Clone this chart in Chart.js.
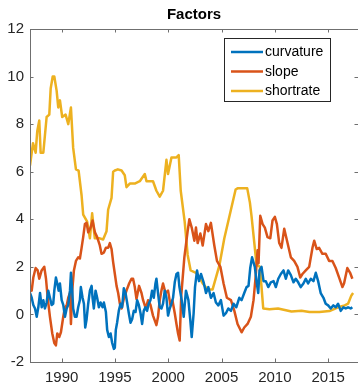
<!DOCTYPE html>
<html>
<head>
<meta charset="utf-8">
<script src="https://cdn.jsdelivr.net/npm/chart.js@4"></script>
<style>
  html, body { margin: 0; padding: 0; background: #fff; }
  #grafico { display: block; }
</style>
</head>
<body>
<canvas id="grafico" width="358" height="386"></canvas>
<script>
// anos (fração decimal) e valores
const curvatureYears = [1987.03,1987.19,1987.34,1987.50,1987.66,1987.81,1987.97,1988.13,1988.28,1988.43,1988.59,1988.74,1988.90,1989.06,1989.21,1989.31,1989.46,1989.59,1989.72,1989.84,1990.00,1990.15,1990.31,1990.47,1990.62,1990.78,1990.87,1990.99,1991.08,1991.24,1991.40,1991.55,1991.71,1991.80,1991.96,1992.09,1992.21,1992.34,1992.49,1992.65,1992.81,1992.90,1993.02,1993.18,1993.33,1993.49,1993.65,1993.84,1993.96,1994.15,1994.27,1994.43,1994.59,1994.74,1994.90,1994.99,1995.08,1995.20,1995.36,1995.52,1995.67,1995.83,1995.99,1996.14,1996.30,1996.46,1996.61,1996.77,1996.93,1997.08,1997.24,1997.40,1997.55,1997.70,1997.86,1998.01,1998.17,1998.33,1998.48,1998.64,1998.80,1998.89,1999.04,1999.20,1999.36,1999.51,1999.67,1999.83,1999.98,2000.14,2000.30,2000.45,2000.61,2000.77,2000.92,2001.05,2001.26,2001.45,2001.66,2001.89,2002.07,2002.20,2002.38,2002.51,2002.70,2002.88,2003.07,2003.32,2003.54,2003.76,2004.00,2004.25,2004.47,2004.70,2004.94,2005.19,2005.41,2005.63,2005.88,2006.13,2006.38,2006.66,2006.88,2007.13,2007.35,2007.53,2007.69,2007.86,2008.12,2008.31,2008.44,2008.56,2008.75,2008.94,2009.15,2009.38,2009.62,2009.88,2010.09,2010.32,2010.56,2010.81,2011.03,2011.25,2011.50,2011.75,2011.96,2012.19,2012.43,2012.68,2012.90,2013.12,2013.37,2013.62,2013.84,2014.06,2014.30,2014.56,2014.77,2015.00,2015.24,2015.49,2015.71,2015.93,2016.18,2016.43,2016.65,2016.87,2017.11,2017.27];
const curvatureValues = [0.9,0.7,0.4,0.25,-0.1,0.3,0.9,0.3,0.6,0.25,0.5,1.0,0.7,0.4,0.45,1.0,1.55,1.3,1.0,1.3,0.6,0.4,-0.1,0.25,0.4,1.0,1.75,1.0,0.25,-0.1,-0.1,0.3,0.6,1.15,0.7,0.45,-0.55,-0.2,0.45,1.0,1.2,0.7,0.25,1.0,0.7,0.3,0.5,0.3,0.5,0.1,-0.65,-0.95,-0.8,-1.2,-1.45,-1.4,-0.65,-0.35,0.15,0.45,0.3,1.1,0.9,0.5,0.05,-0.35,-0.2,0.15,0.1,0.6,0.4,0.05,-0.4,0.15,0.3,0.15,0.45,0.6,1.0,0.7,1.3,1.5,0.9,0.3,0.25,0.45,1.0,0.7,-0.05,0.25,0.45,0.7,1.35,1.7,1.75,1.15,0.6,-0.1,1.0,0.6,-0.25,-0.95,0.05,1.15,1.85,1.4,1.7,1.35,0.9,1.15,0.7,0.9,0.5,0.38,0.6,-0.05,0.05,0.25,0.15,0.45,0.3,0.7,0.6,0.9,1.15,1.2,1.95,2.4,2.0,1.3,0.9,1.85,2.0,1.4,1.4,1.15,1.35,1.4,1.15,1.5,1.7,1.85,1.5,1.85,1.65,1.35,1.5,1.35,1.15,1.3,1.5,1.3,1.5,1.4,1.75,1.4,0.9,0.7,0.45,0.38,0.25,0.38,0.3,0.45,0.15,0.3,0.25,0.3,0.25,0.3];

const slopeYears = [1987.03,1987.19,1987.34,1987.56,1987.75,1987.90,1988.12,1988.37,1988.53,1988.69,1988.90,1989.12,1989.31,1989.46,1989.59,1989.77,1989.93,1990.15,1990.31,1990.47,1990.62,1990.78,1990.87,1990.99,1991.15,1991.34,1991.55,1991.71,1991.87,1992.02,1992.18,1992.34,1992.49,1992.71,1992.90,1993.12,1993.33,1993.58,1993.74,1993.96,1994.15,1994.36,1994.52,1994.68,1994.83,1994.99,1995.15,1995.30,1995.46,1995.62,1995.83,1996.08,1996.33,1996.55,1996.70,1996.86,1997.02,1997.26,1997.49,1997.64,1997.89,1998.11,1998.33,1998.57,1998.73,1998.89,1999.04,1999.20,1999.36,1999.51,1999.74,1999.98,2000.20,2000.39,2000.61,2000.77,2000.92,2001.07,2001.22,2001.51,2001.82,2001.98,2002.20,2002.45,2002.60,2002.76,2003.01,2003.23,2003.54,2003.76,2004.00,2004.32,2004.57,2004.89,2005.19,2005.50,2005.88,2006.20,2006.50,2006.88,2007.13,2007.44,2007.75,2008.00,2008.22,2008.38,2008.47,2008.63,2008.85,2009.06,2009.31,2009.57,2009.78,2010.00,2010.19,2010.41,2010.62,2010.88,2011.19,2011.50,2011.81,2012.12,2012.38,2012.59,2012.90,2013.22,2013.53,2013.69,2013.93,2014.15,2014.46,2014.77,2015.09,2015.40,2015.71,2016.03,2016.34,2016.49,2016.80,2017.06,2017.27];
const slopeValues = [1.2,1.0,1.55,1.95,1.85,1.5,1.85,2.0,1.5,0.7,-0.1,-0.8,-1.2,-1.3,-0.8,-0.95,-0.75,-0.1,0.3,0.38,0.7,0.9,-0.4,1.0,1.85,2.25,2.4,2.35,2.8,3.25,3.8,3.85,3.45,3.65,3.95,3.45,3.25,2.9,2.55,2.6,2.8,2.8,3.0,2.75,2.2,1.7,1.2,0.9,0.45,0.25,0.65,1.0,1.3,1.5,1.5,1.15,0.65,1.2,0.9,0.6,0.25,0.6,0.4,-0.05,-0.25,-0.45,-0.1,0.6,1.0,1.3,0.9,1.0,0.4,0.6,0.05,-0.4,-0.8,-1.1,0.8,2.4,3.5,4.0,3.65,3.1,3.65,3.0,3.4,2.9,3.8,3.5,3.85,2.9,2.25,2.0,1.3,0.7,0.6,0.15,-0.4,-0.75,-0.55,-0.4,-0.1,0.6,1.7,2.7,2.15,4.15,3.8,3.65,3.25,3.2,3.95,4.1,3.8,3.0,2.8,3.6,3.0,2.4,2.25,2.0,1.55,1.7,1.85,2.0,2.8,3.1,2.75,2.8,2.55,2.55,2.25,2.25,1.95,1.55,1.15,1.3,1.95,1.75,1.5];

const shortrateYears = [1987.03,1987.31,1987.56,1987.71,1987.90,1988.03,1988.28,1988.59,1988.84,1988.97,1989.16,1989.31,1989.53,1989.68,1989.84,1990.05,1990.37,1990.62,1990.87,1991.08,1991.34,1991.59,1991.87,1992.02,1992.39,1992.65,1992.86,1993.11,1993.58,1993.89,1994.21,1994.36,1994.68,1994.83,1994.99,1995.27,1995.62,1995.92,1996.08,1996.39,1996.86,1997.33,1997.80,1997.96,1998.57,1998.89,1999.20,1999.51,1999.83,1999.98,2000.30,2000.77,2000.98,2001.17,2001.54,2001.82,2002.10,2002.60,2002.92,2003.23,2003.70,2004.16,2004.79,2005.26,2005.88,2006.32,2006.50,2007.41,2007.66,2007.82,2008.28,2008.59,2008.75,2008.91,2009.50,2010.30,2011.56,2012.50,2013.25,2014.18,2015.12,2015.93,2016.55,2016.87,2017.18,2017.34];
const shortrateValues = [6.26,7.2,6.8,7.7,8.15,6.8,6.8,8.3,8.4,9.5,10.0,10.0,9.4,8.7,9.0,8.3,8.4,8.0,8.7,7.0,6.1,6.05,5.0,4.2,3.9,3.2,4.25,3.2,3.2,3.15,3.5,4.4,4.9,6.0,6.05,6.1,6.05,5.85,5.35,5.5,5.5,5.6,5.9,5.6,5.6,5.2,4.95,5.2,6.5,5.9,6.6,6.6,6.7,5.2,3.9,2.5,1.85,1.75,1.55,1.3,1.05,1.05,2.05,3.2,4.4,5.25,5.3,5.3,4.7,4.1,2.1,2.0,1.15,0.25,0.22,0.25,0.12,0.15,0.1,0.1,0.14,0.3,0.38,0.45,0.8,0.9];

const seriesNames = ['curvature', 'slope', 'shortrate'];
const xTickYears = [1990, 1995, 2000, 2005, 2010, 2015];
const yTickValues = [-2, 0, 2, 4, 6, 8, 10, 12];

const cores = ['#0072BD', '#D95319', '#EDB120'];
const fonte = '"Liberation Sans", Arial, Helvetica, sans-serif';

function pares(anos, valores) {
  return anos.map((a, i) => ({ x: a, y: valores[i] }));
}

// moldura estilo MATLAB + legenda dentro do eixo
const caixaPlugin = {
  id: 'caixa',
  afterDatasetsDraw(chart) {
    const { ctx, chartArea: a, scales } = chart;
    ctx.save();
    ctx.strokeStyle = '#6f6f6f';
    ctx.lineWidth = 1;
    ctx.beginPath();
    ctx.rect(a.left + 0.5, a.top + 0.5, a.right - a.left, a.bottom - a.top);
    ctx.stroke();
    const tl = 3.5;
    ctx.beginPath();
    xTickYears.forEach(v => {
      const px = Math.round(scales.x.getPixelForValue(v)) + 0.5;
      ctx.moveTo(px, a.bottom); ctx.lineTo(px, a.bottom - tl);
      ctx.moveTo(px, a.top); ctx.lineTo(px, a.top + tl);
    });
    yTickValues.forEach(v => {
      const py = Math.round(scales.y.getPixelForValue(v)) + 0.5;
      ctx.moveTo(a.left, py); ctx.lineTo(a.left + tl, py);
      ctx.moveTo(a.right, py); ctx.lineTo(a.right - tl, py);
    });
    ctx.stroke();

    // legenda
    const lx = 224.5, ly = 38.5, lw = 106, lh = 63;
    ctx.fillStyle = '#fff';
    ctx.fillRect(lx, ly, lw, lh);
    ctx.strokeStyle = '#262626';
    ctx.strokeRect(lx, ly, lw, lh);
    const linhasY = [52, 71.5, 91];
    ctx.font = '14px ' + fonte;
    ctx.textBaseline = 'middle';
    ctx.textAlign = 'left';
    chart.data.datasets.forEach((ds, i) => {
      ctx.strokeStyle = ds.borderColor;
      ctx.lineWidth = 2.5;
      ctx.beginPath();
      ctx.moveTo(231, linhasY[i]);
      ctx.lineTo(263, linhasY[i]);
      ctx.stroke();
      ctx.fillStyle = '#000';
      ctx.fillText(ds.label, 265, linhasY[i] + 0.5);
    });
    ctx.restore();
  }
};

const ctx = document.getElementById('grafico').getContext('2d');

const grafico = new Chart(ctx, {
  type: 'line',
  data: {
    datasets: [
      { label: seriesNames[0], data: pares(curvatureYears, curvatureValues), borderColor: cores[0] },
      { label: seriesNames[1], data: pares(slopeYears, slopeValues), borderColor: cores[1] },
      { label: seriesNames[2], data: pares(shortrateYears, shortrateValues), borderColor: cores[2] }
    ]
  },
  options: {
    animation: false,
    responsive: false,
    devicePixelRatio: 1,
    parsing: false,
    elements: {
      line: { borderWidth: 2.5, tension: 0, fill: false, borderJoinStyle: 'round' },
      point: { radius: 0 }
    },
    layout: { padding: { left: 0, right: 0, top: 0, bottom: 0 } },
    scales: {
      x: {
        type: 'linear',
        min: 1987.03,
        max: 2017.8,
        afterBuildTicks: s => { s.ticks = xTickYears.map(v => ({ value: v })); },
        afterFit: s => { s.height = 24; },
        grid: { display: false, drawTicks: false },
        border: { display: false },
        ticks: {
          padding: 7,
          color: '#262626',
          font: { family: fonte, size: 15 },
          maxRotation: 0,
          callback: v => String(v)
        }
      },
      y: {
        min: -2,
        max: 12,
        afterBuildTicks: s => { s.ticks = yTickValues.map(v => ({ value: v })); },
        afterFit: s => { s.width = 30; },
        grid: { display: false, drawTicks: false },
        border: { display: false },
        ticks: {
          padding: 6,
          color: '#262626',
          font: { family: fonte, size: 15 },
          callback: v => String(v)
        }
      }
    },
    plugins: {
      legend: { display: false },
      tooltip: { enabled: false },
      title: {
        display: true,
        text: 'Factors',
        fullSize: false,
        color: '#000',
        font: { family: fonte, size: 15, weight: 'bold' },
        padding: { top: 6, bottom: 5 }
      }
    }
  },
  plugins: [caixaPlugin]
});
</script>
</body>
</html>
